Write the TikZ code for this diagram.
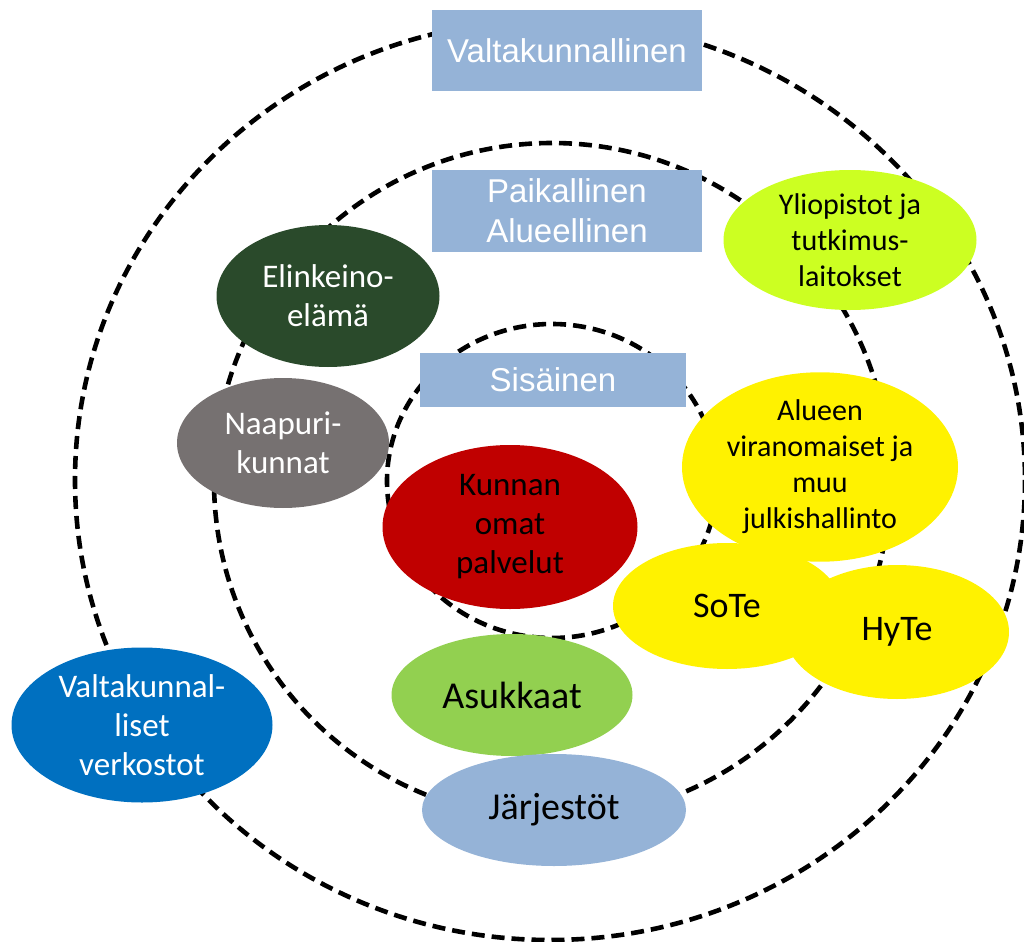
\documentclass[tikz,border=0pt]{standalone}
\usepackage{fontspec}
\setmainfont{Carlito}
\newfontfamily\boxfont{Liberation Sans}
\usetikzlibrary{shapes.geometric}
\definecolor{levelblue}{HTML}{95B3D7}
\definecolor{dgreen}{HTML}{2A4A2B}
\definecolor{dgray}{HTML}{767171}
\definecolor{dred}{HTML}{C00000}
\definecolor{lime}{HTML}{CCFF22}
\definecolor{lgreen}{HTML}{92D050}
\definecolor{dblue}{HTML}{0070C0}
\tikzstyle{ring}=[line width=2.3pt,dash pattern=on 6.5pt off 3.5pt]
\tikzstyle{level}=[rectangle,fill=levelblue,text=white,inner sep=0pt,align=center,font=\boxfont\fontsize{16.5}{20}\selectfont]
\tikzstyle{actor}=[ellipse,inner sep=0pt,align=center,font=\fontsize{16.5}{19.5}\selectfont]
\tikzstyle{small}=[font=\fontsize{15}{18}\selectfont]

\begin{document}
\begin{tikzpicture}[x=0.5pt,y=-0.5pt]
	\useasboundingbox (0,0) rectangle (1024,942);
	\coordinate (c) at (552,481);
	% rings
	\draw[ring] (550,480) ellipse [x radius=475,y radius=460];
	\draw[ring] (c) circle [radius=338];
	\draw[ring] (c) ellipse [x radius=165,y radius=157];
	% levels
	\node[level,minimum width=135pt,minimum height=40.5pt] (valta) at (567,50.5) {Valtakunnallinen};
	\node[level,minimum width=135pt,minimum height=41pt] (paik) at (567,211) {Paikallinen\\Alueellinen};
	\node[level,minimum width=133pt,minimum height=27pt] (sis) at (553,380) {Sis\"ainen};
	% actors
	\node[actor,fill=dgreen,text=white,minimum width=111.5pt,minimum height=71pt] (elink) at (328,296) {Elinkeino-\\el\"am\"a};
	\node[actor,fill=dgray,text=white,minimum width=106pt,minimum height=65pt] (naapuri) at (283,443) {Naapuri-\\kunnat};
	\node[actor,fill=dred,minimum width=127.5pt,minimum height=82pt] (kunnan) at (510,527) {Kunnan\\omat\\palvelut};
	\node[actor,small,fill=lime,minimum width=126.5pt,minimum height=70pt] (yliop) at (850,240) {Yliopistot ja\\tutkimus-\\laitokset};
	\node[actor,small,fill=yellow,minimum width=138pt,minimum height=90pt] (alueen) at (820,467) {Alueen\\viranomaiset ja\\muu\\julkishallinto};
	\node[actor,fill=yellow,minimum width=114pt,minimum height=63pt,font=\fontsize{18}{20}\selectfont] (sote) at (727,606) {SoTe};
	\node[actor,fill=yellow,minimum width=112pt,minimum height=67pt,font=\fontsize{18}{20}\selectfont] (hyte) at (897,632) {HyTe};
	\node[actor,fill=lgreen,minimum width=120.5pt,minimum height=61pt,font=\fontsize{19}{20}\selectfont] (asuk) at (512,695) {Asukkaat};
	\node[actor,fill=levelblue,minimum width=132pt,minimum height=56pt,font=\fontsize{19}{20}\selectfont] (jarj) at (554,810) {J\"arjest\"ot};
	\node[actor,fill=dblue,text=white,minimum width=130.5pt,minimum height=77.5pt] (verk) at (142,725) {Valtakunnal-\\liset\\verkostot};
\end{tikzpicture}
\end{document}
